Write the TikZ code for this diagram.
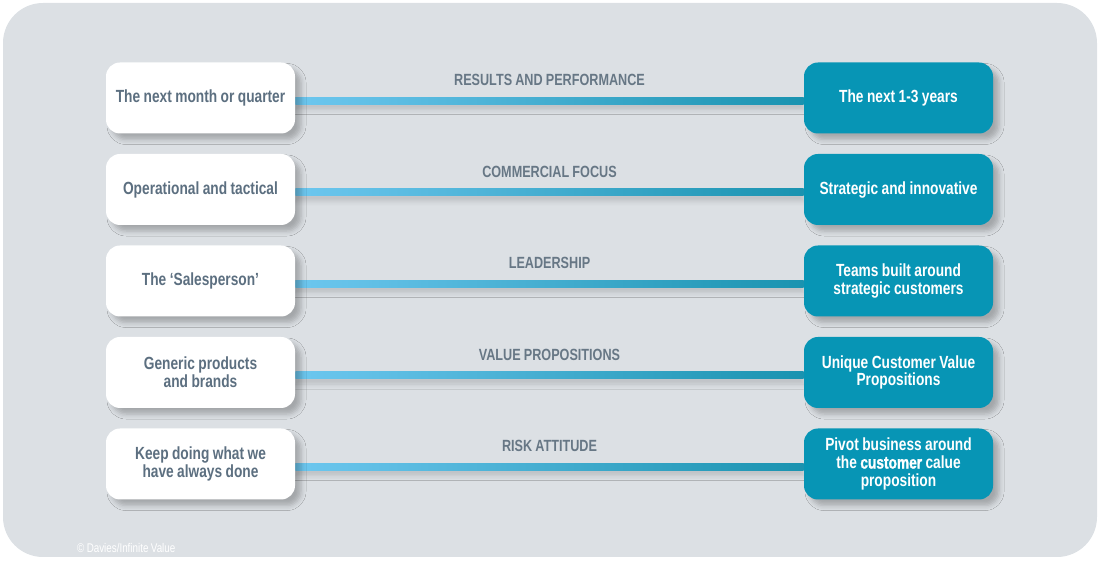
\documentclass[tikz,border=0pt]{standalone}
\usepackage{fontspec}
\setmainfont{Liberation Sans}[FakeStretch=0.78, WordSpace=0.9]
\newfontfamily\heavyfont{Liberation Sans}[FakeStretch=0.78, WordSpace=0.9, BoldFeatures={FakeBold=1.2}]
\usetikzlibrary{shadows.blur, backgrounds}

\definecolor{panelgray}{HTML}{DCE0E4}
\definecolor{textslate}{HTML}{5C6F80}
\definecolor{tagslate}{HTML}{677785}
\definecolor{futteal}{HTML}{0795B5}
\definecolor{wireL}{HTML}{6DC7EF}
\definecolor{wireR}{HTML}{1A93B0}

\newcommand\boxfont{\fontsize{8.8}{8.9}\selectfont\bfseries}
\newcommand\tagfont{\fontsize{8.1}{9}\selectfont\bfseries}

\tikzset{
  nowbox/.style={fill=white, rounded corners=7pt, minimum width=94.5pt, minimum height=35.5pt,
    inner sep=1pt, text width=92pt, align=flush center, text=textslate, font=\boxfont,
    blur shadow={shadow xshift=3pt, shadow yshift=-3pt, shadow blur radius=2.5pt, shadow opacity=25}},
  futbox/.style={nowbox, fill=futteal, text=white},
  tag/.style={text=tagslate, font=\tagfont},
  wire/.style={left color=wireL, right color=wireR,
    blur shadow={shadow xshift=0pt, shadow yshift=-2.5pt, shadow blur radius=2.5pt, shadow opacity=15}},
}

\begin{document}
\begin{tikzpicture}[x=0.5pt, y=0.5pt]
  \useasboundingbox (0,0) rectangle (1100,-561);

  % left column: where the focus is now
  \node[nowbox] (now1) at (200.5,-98) {The next month or quarter};
  \node[nowbox] (now2) at (200.5,-189.5) {Operational and tactical};
  \node[nowbox] (now3) at (200.5,-281) {The `Salesperson'};
  \node[nowbox] (now4) at (200.5,-372.5) {Generic products\\and brands};
  \node[nowbox] (now5) at (200.5,-464) {Keep doing what we\\have always done};

  % right column: where it should go
  \node[futbox] (fut1) at (898.5,-98) {The next 1-3 years};
  \node[futbox] (fut2) at (898.5,-189.5) {Strategic and innovative};
  \node[futbox] (fut3) at (898.5,-281) {Teams built around\\strategic customers};
  \node[futbox] (fut4) at (898.5,-372.5) {Unique Customer Value\\Propositions};
  \node[futbox] (fut5) at (898.5,-464) {Pivot business around\\the {\heavyfont\bfseries customer} calue\\proposition};

  \begin{pgfonlayer}{background}
    \fill[panelgray, rounded corners=20pt] (3,-3) rectangle (1097,-557);
    \shade[wire] ([yshift=0.25pt]now1.east) rectangle ([yshift=-3.25pt]fut1.west);
    \shade[wire] ([yshift=0.25pt]now2.east) rectangle ([yshift=-3.25pt]fut2.west);
    \shade[wire] ([yshift=0.25pt]now3.east) rectangle ([yshift=-3.25pt]fut3.west);
    \shade[wire] ([yshift=0.25pt]now4.east) rectangle ([yshift=-3.25pt]fut4.west);
    \shade[wire] ([yshift=0.25pt]now5.east) rectangle ([yshift=-3.25pt]fut5.west);
  \end{pgfonlayer}

  \path (now1) -- node[tag, yshift=9pt] (tag1) {RESULTS AND PERFORMANCE} (fut1);
  \path (now2) -- node[tag, yshift=9pt] (tag2) {COMMERCIAL FOCUS} (fut2);
  \path (now3) -- node[tag, yshift=9pt] (tag3) {LEADERSHIP} (fut3);
  \path (now4) -- node[tag, yshift=9pt] (tag4) {VALUE PROPOSITIONS} (fut4);
  \path (now5) -- node[tag, yshift=9pt] (tag5) {RISK ATTITUDE} (fut5);

  \node[anchor=west, text=white, font=\fontsize{6.3}{7}\selectfont] (credit) at (70,-548)
    {\textcopyright\ Davies/Infinite Value};
\end{tikzpicture}
\end{document}
